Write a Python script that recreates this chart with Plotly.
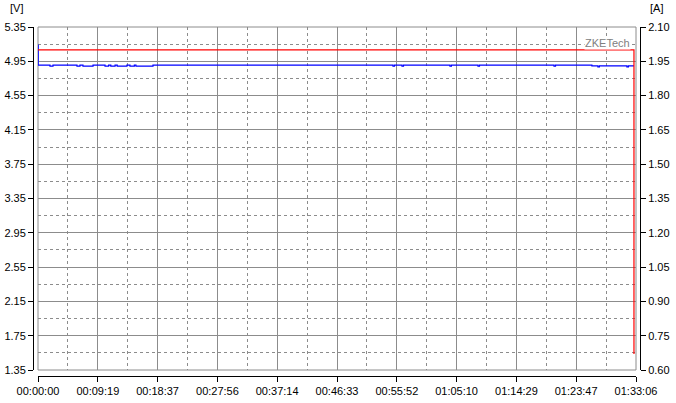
import plotly.graph_objects as go

# ---- data ----
x_tick_labels = ["00:00:00", "00:09:19", "00:18:37", "00:27:56", "00:37:14", "00:46:33",
                 "00:55:52", "01:05:10", "01:14:29", "01:23:47", "01:33:06"]

volt_time = [0, 2, 112, 140, 364, 392, 420, 514, 626, 660, 680, 720, 740, 831,
             859, 900, 915, 1074, 3316, 3330, 3400, 3414, 3848, 3862, 4110, 4124,
             4820, 4834, 5174, 5230, 5244, 5501, 5515, 5567]
volt_vals = [5.14, 4.905, 4.893, 4.905, 4.893, 4.905, 4.893, 4.905, 4.893, 4.905, 4.893, 4.905, 4.893, 4.905,
             4.893, 4.905, 4.893, 4.905, 4.893, 4.905, 4.893, 4.905, 4.893, 4.905, 4.893, 4.905,
             4.893, 4.905, 4.897, 4.885, 4.897, 4.885, 4.897, 4.897]

curr_time = [0, 5567, 5567]
curr_vals = [2.00, 2.00, 0.67]

v_range = [1.35, 5.35]
a_range = [0.60, 2.10]


def hms_to_s(s):
    h, m, sec = (int(p) for p in s.split(":"))
    return h * 3600 + m * 60 + sec


x_tick_vals = [hms_to_s(s) for s in x_tick_labels]
x_minor_vals = [(a + b) / 2 for a, b in zip(x_tick_vals[:-1], x_tick_vals[1:])]

W, H = 676, 403
px_l, px_r, px_t, px_b = 38, 636, 27, 370

fig = go.Figure()
fig.add_trace(go.Scatter(x=curr_time, y=curr_vals, mode="lines", yaxis="y2",
                         line=dict(color="#ff0000", width=1.2), hoverinfo="skip"))
fig.add_trace(go.Scatter(x=volt_time, y=volt_vals, mode="lines", line_shape="hv",
                         line=dict(color="#0000ff", width=1.2), hoverinfo="skip"))

grid = "#8c8c8c"
dash = "3px,3px"
font = dict(family="Liberation Sans, Arial, sans-serif", size=11, color="#000000")

fig.update_layout(
    template="none",
    width=W, height=H, autosize=False,
    margin=dict(l=0, r=0, t=0, b=0, pad=0),
    paper_bgcolor="white", plot_bgcolor="white",
    showlegend=False, font=font,
    xaxis=dict(
        domain=[px_l / W, px_r / W], range=[0, x_tick_vals[-1]], automargin=False,
        anchor="free", position=1 - 376 / H,
        showline=True, linecolor="black", linewidth=1,
        ticks="outside", ticklen=5, tickcolor="black",
        tickmode="array", tickvals=x_tick_vals, ticktext=x_tick_labels,
        showgrid=True, gridcolor=grid, gridwidth=1, zeroline=False,
        minor=dict(tickmode="array", tickvals=x_minor_vals, showgrid=True,
                   griddash=dash, gridcolor=grid, gridwidth=1, ticks=""),
        tickfont=font, fixedrange=True,
    ),
    yaxis=dict(
        domain=[1 - px_b / H, 1 - px_t / H], range=v_range, automargin=False,
        anchor="free", position=33 / W, side="left",
        showline=True, linecolor="black", linewidth=1,
        ticks="outside", ticklen=5, tickcolor="black",
        tick0=v_range[0], dtick=0.4, tickformat=".2f",
        showgrid=True, gridcolor=grid, gridwidth=1, zeroline=False,
        minor=dict(tick0=v_range[0], dtick=0.2, showgrid=True,
                   griddash=dash, gridcolor=grid, gridwidth=1, ticks=""),
        tickfont=font, fixedrange=True,
    ),
    yaxis2=dict(
        overlaying="y", range=a_range, automargin=False,
        anchor="free", position=640 / W, side="right",
        showline=True, linecolor="black", linewidth=1,
        ticks="outside", ticklen=5, tickcolor="black",
        tick0=a_range[0], dtick=0.15, tickformat=".2f",
        showgrid=False, zeroline=False,
        tickfont=font, fixedrange=True,
    ),
    shapes=[dict(type="rect", xref="x domain", yref="y domain", x0=0, x1=1, y0=0, y1=1,
                 line=dict(color=grid, width=1), layer="below")],
    annotations=[
        dict(text="[V]", xref="paper", yref="paper", x=16 / W, y=1 - 8 / H,
             showarrow=False, xanchor="center", yanchor="middle", font=font),
        dict(text="[A]", xref="paper", yref="paper", x=656 / W, y=1 - 8 / H,
             showarrow=False, xanchor="center", yanchor="middle", font=font),
        dict(text="ZKETech", xref="paper", yref="paper", x=631 / W, y=1 - 43 / H,
             showarrow=False, xanchor="right", yanchor="middle", bgcolor="white",
             borderpad=0, font=dict(family=font["family"], size=11, color="#808080")),
    ],
)

fig.write_html("out.html", config={"displayModeBar": False, "staticPlot": True},
               post_script="document.body.style.margin='0';document.body.style.padding='0';")
